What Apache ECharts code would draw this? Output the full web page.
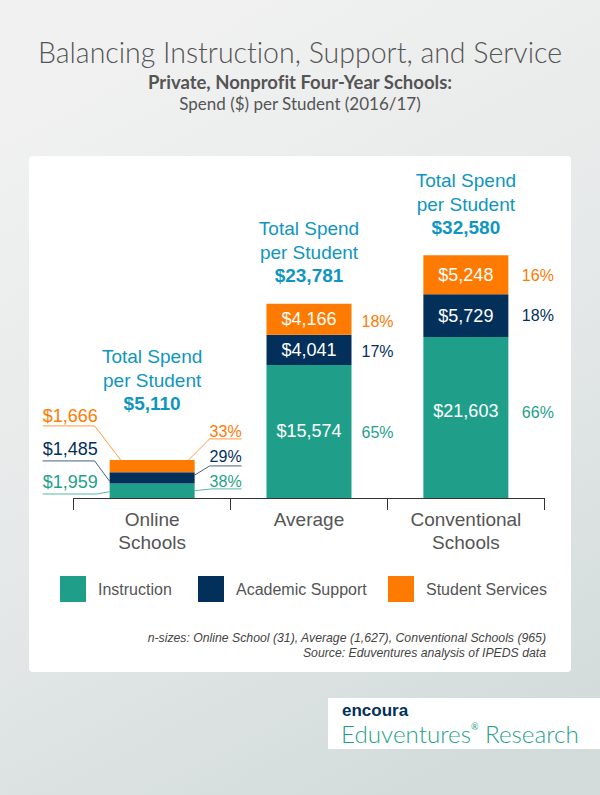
<!DOCTYPE html>
<html>
<head>
<meta charset="utf-8">
<title>Balancing Instruction, Support, and Service</title>
<script src="https://cdn.jsdelivr.net/npm/echarts@6/dist/echarts.min.js"></script>
<style>
  html, body { margin: 0; padding: 0; }
  #chart { width: 600px; height: 795px; }
  #chart text { font-variant-ligatures: none; }
</style>
</head>
<body>
<div id="chart"></div>
<script>
// data
const schools = ['Online\nSchools', 'Average', 'Conventional\nSchools'];
const seriesNames = ['Instruction', 'Academic Support', 'Student Services'];

// printed on the chart
const instructionLabels = ['$1,959', '$15,574', '$21,603'];
const supportLabels = ['$1,485', '$4,041', '$5,729'];
const servicesLabels = ['$1,666', '$4,166', '$5,248'];
const instructionShares = ['38%', '65%', '66%'];
const supportShares = ['29%', '17%', '18%'];
const servicesShares = ['33%', '18%', '16%'];
const totals = ['$5,110', '$23,781', '$32,580'];

// bar heights. the Average instruction bar is drawn taller in the original
// than its $15,574 label, so its height is read off the bar (about 17,850)
const instruction = [1959, 17850, 21603];
const support = [1485, 4041, 5729];
const services = [1666, 4166, 5248];

const TEAL = '#1f9f8a';
const NAVY = '#03305a';
const ORANGE = '#ff7a00';
const BLUE = '#0f96bf';
const GREY = '#555555';
const SANS = '"Liberation Sans", Arial, sans-serif';
const SLAB = 'Lato, "Noto Sans", sans-serif';

// svg so the css above can switch off the Lato ligatures
let myChart = echarts.init(document.querySelector('#chart'), null, { renderer: 'svg' });

function text(x, y, str, fill, size, align, weight) {
  return {
    type: 'text',
    style: {
      x: x, y: y, text: str, fill: fill,
      fontFamily: SANS, fontSize: size, fontWeight: weight || 'normal',
      textAlign: align, textVerticalAlign: 'middle'
    }
  };
}

function leader(points, color) {
  return {
    type: 'polyline',
    shape: { points: points },
    style: { stroke: color, lineWidth: 1, fill: null, opacity: 0.75 }
  };
}

// totals, shares and the online callouts, hung off the bars
function renderNotes(params, api) {
  let i = api.value(0);
  let halfBar = 42.5;
  let cx = api.coord([i, 0])[0];
  let y0 = api.coord([i, 0])[1];
  let y1 = api.coord([i, instruction[i]])[1];
  let y2 = api.coord([i, instruction[i] + support[i]])[1];
  let y3 = api.coord([i, instruction[i] + support[i] + services[i]])[1];
  let left = cx - halfBar;
  let right = cx + halfBar;
  let children = [];

  let totalUp = i === 0 ? 103 : 75;
  children.push(text(cx, y3 - totalUp, 'Total Spend', BLUE, 19, 'center'));
  children.push(text(cx, y3 - totalUp + 24, 'per Student', BLUE, 19, 'center'));
  children.push(text(cx, y3 - totalUp + 47, totals[i], BLUE, 19, 'center', 'bold'));

  if (i === 0) {
    let lx = left - 67;
    let rx = right + 47;
    children.push(
      text(lx, y3 - 44, servicesLabels[i], ORANGE, 18, 'left'),
      text(lx, y3 - 11, supportLabels[i], NAVY, 18, 'left'),
      text(lx, y3 + 22, instructionLabels[i], TEAL, 18, 'left'),
      text(rx, y3 - 28, servicesShares[i], ORANGE, 16, 'right'),
      text(rx, y3 - 3, supportShares[i], NAVY, 16, 'right'),
      text(rx, y3 + 22, instructionShares[i], TEAL, 16, 'right'),
      leader([[lx, y3 - 34], [left - 15, y3 - 34], [left + 11, y3]], ORANGE),
      leader([[lx, y3 + 1], [left - 15, y3 + 1], [left, y2 + 9]], NAVY),
      leader([[lx, y0 - 4], [left - 13, y0 - 4], [left, (y0 + y1) / 2 + 1]], TEAL),
      leader([[right - 6, y3], [right + 15, y3 - 21], [rx, y3 - 21]], ORANGE),
      leader([[right, (y2 + y3) / 2 + 9], [right + 15, y3 + 6], [rx, y3 + 6]], NAVY),
      leader([[right, (y0 + y1) / 2], [right + 17, y3 + 29], [rx, y3 + 29]], TEAL)
    );
  } else {
    let px = right + (i === 1 ? 10 : 13.5);
    children.push(
      text(px, (y2 + y3) / 2 + (i === 1 ? 2 : 1), servicesShares[i], ORANGE, 16, 'left'),
      text(px, (y1 + y2) / 2 + (i === 1 ? 2 : 0), supportShares[i], NAVY, 16, 'left'),
      text(px, (y0 + y1) / 2 + (i === 1 ? 1 : -5), instructionShares[i], TEAL, 16, 'left')
    );
  }
  return { type: 'group', children: children };
}

function barSeries(name, values, color, labels) {
  return {
    name: name,
    type: 'bar',
    stack: 'spend',
    barWidth: 85,
    data: values,
    itemStyle: { color: color },
    label: {
      show: true,
      position: 'inside',
      color: '#fff',
      fontFamily: SANS,
      fontSize: 18,
      // online bars are too thin, they get callouts instead
      formatter: function (p) { return p.dataIndex === 0 ? '' : labels[p.dataIndex]; }
    },
    // the conventional instruction label sits above the middle of its bar
    labelLayout: function (p) {
      return name === seriesNames[0] && p.dataIndex === 2 ? { dy: -6 } : {};
    }
  };
}

// one legend per entry, the gaps in the original are uneven
function legendItem(name, left) {
  return {
    data: [{ name: name, icon: 'rect' }],
    left: left,
    top: 576,
    padding: 0,
    itemWidth: 26,
    itemHeight: 26,
    itemGap: 0,
    itemStyle: { borderWidth: 0 },
    textStyle: { color: GREY, fontFamily: SANS, fontSize: 16, padding: [7, 0, 0, 7] }
  };
}

let option = {
  animation: false,
  backgroundColor: new echarts.graphic.LinearGradient(0.3, 0, 0.7, 1, [
    { offset: 0, color: '#f1f1f1' },
    { offset: 0.5, color: '#e6e9e9' },
    { offset: 1, color: '#d3dcdb' }
  ]),
  title: [
    {
      text: 'Balancing Instruction, Support, and Service',
      left: 'center', top: 32,
      textStyle: { color: GREY, fontFamily: SLAB, fontSize: 28.5, fontWeight: 300 }
    },
    {
      text: 'Private, Nonprofit Four-Year Schools:',
      left: 'center', top: 67,
      textStyle: { color: GREY, fontFamily: SLAB, fontSize: 18.5, fontWeight: 'bold' }
    },
    {
      text: 'Spend ($) per Student (2016/17)',
      left: 'center', top: 90,
      textStyle: { color: GREY, fontFamily: SLAB, fontSize: 17, fontWeight: 'normal' }
    }
  ],
  grid: { left: 73.7, right: 55.7, top: 103, height: 395 },
  legend: [
    legendItem(seriesNames[0], 60),
    legendItem(seriesNames[1], 198),
    legendItem(seriesNames[2], 388)
  ],
  xAxis: {
    type: 'category',
    data: schools,
    axisLine: { lineStyle: { color: '#333', width: 1 } },
    axisTick: { show: true, length: 12, lineStyle: { color: '#333' } },
    axisLabel: {
      color: GREY, fontFamily: SANS, fontSize: 19, lineHeight: 23, margin: 10
    }
  },
  yAxis: { type: 'value', min: 0, max: 53000, show: false },
  graphic: [
    {
      type: 'rect', z: -1,
      shape: { x: 29, y: 156, width: 542, height: 516, r: 4 },
      style: { fill: '#fff' }
    },
    {
      type: 'rect', z: -1,
      shape: { x: 328, y: 698, width: 272, height: 51 },
      style: { fill: '#fff' }
    },
    {
      type: 'text', x: 342, y: 702,
      style: { text: 'encoura', fill: NAVY, fontFamily: SANS, fontSize: 17, fontWeight: 'bold' }
    },
    {
      type: 'text', x: 341, y: 722,
      style: {
        text: '{a|Eduventures}{b|®}{a| Research}',
        rich: {
          a: { fill: TEAL, fontFamily: SLAB, fontSize: 24.2, fontWeight: 300, lineHeight: 22 },
          b: { fill: TEAL, fontFamily: SLAB, fontSize: 9, lineHeight: 22, verticalAlign: 'top' }
        }
      }
    },
    {
      type: 'text', x: 546, y: 631,
      style: {
        text: 'n-sizes: Online School (31), Average (1,627), Conventional Schools (965)\nSource: Eduventures analysis of IPEDS data',
        fill: '#444', fontFamily: SANS, fontSize: 12.25, fontStyle: 'italic',
        textAlign: 'right', lineHeight: 14.5
      }
    }
  ],
  series: [
    barSeries(seriesNames[0], instruction, TEAL, instructionLabels),
    barSeries(seriesNames[1], support, NAVY, supportLabels),
    barSeries(seriesNames[2], services, ORANGE, servicesLabels),
    {
      type: 'custom',
      renderItem: renderNotes,
      data: schools.map(function (s, i) { return [i]; }),
      encode: { x: 0 },
      clip: false,
      silent: true,
      z: 5
    }
  ]
};

myChart.setOption(option);
</script>
</body>
</html>
